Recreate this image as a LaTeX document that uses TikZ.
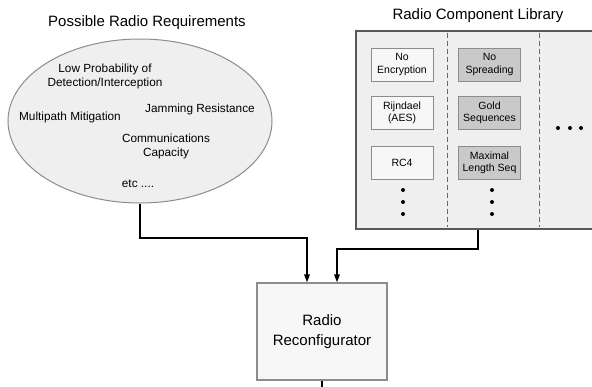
\documentclass[tikz,border=0pt]{standalone}
\usepackage{fontspec}
\setmainfont{Liberation Sans}
\usetikzlibrary{shapes.geometric,arrows.meta}

\definecolor{panel}{HTML}{EFEFEF}
\definecolor{lightbox}{HTML}{F7F7F7}
\definecolor{darkbox}{HTML}{C9C9C9}
\definecolor{edge}{HTML}{8C8C8C}

\begin{document}
\begin{tikzpicture}[x = 1pt, y = -1pt,
                    title/.style = {font = \fontsize{15}{17}\selectfont},
                    req/.style = {font = \fontsize{11.8}{14}\selectfont, align = center},
                    comp/.style = {draw = edge, line width = 1pt, minimum width = 62pt, minimum height = 33pt,
                                   align = center, font = \fontsize{10.5}{12.5}\selectfont, inner sep = 1pt},
                    plain/.style = {comp, fill = lightbox},
                    shaded/.style = {comp, fill = darkbox},
                    dot/.style = {circle, fill = black, inner sep = 0pt, minimum size = 4pt},
                    link/.style = {line width = 1.5pt, -{Triangle[length = 8pt, width = 5.5pt]}}]
  \useasboundingbox (0,0) rectangle (592,386);
  \clip (0,0) rectangle (592,386);

  % requirements
  \node [title] (T1) at (147,23) {Possible Radio Requirements};
  \node [ellipse, draw = edge, fill = panel, line width = 1pt, minimum width = 264pt, minimum height = 164pt] (req) at (140,121) {};
  \node [req] (R1) at (105,76) {Low Probability of\\Detection/Interception};
  \node [req] (R2) at (70,117) {Multipath Mitigation};
  \node [req] (R3) at (200,109) {Jamming Resistance};
  \node [req] (R4) at (166,146) {Communications\\Capacity};
  \node [req] (R5) at (138,184) {etc ....};

  % library
  \node [title] (T2) at (478,16) {Radio Component Library};
  \node [draw = black!65, fill = panel, line width = 1.2pt, minimum width = 244pt, minimum height = 198pt] (lib) at (478,130) {};
  \draw [black!60, line width = 1pt, dash pattern = on 5pt off 3pt] (447,33) -- (447,227);
  \draw [black!60, line width = 1pt, dash pattern = on 5pt off 3pt] (539,33) -- (539,227);

  \node [plain] (A1) at (402,64.5) {No\\Encryption};
  \node [plain] (A2) at (402,113) {Rijndael\\(AES)};
  \node [plain] (A3) at (402,163) {RC4};
  \node [dot] (A4) at (403,190) {};
  \node [dot] (A5) at (403,202) {};
  \node [dot] (A6) at (403,214) {};

  \node [shaded] (B1) at (489.5,64.5) {No\\Spreading};
  \node [shaded] (B2) at (489.5,113) {Gold\\Sequences};
  \node [shaded] (B3) at (489.5,163) {Maximal\\Length Seq};
  \node [dot] (B4) at (492,190) {};
  \node [dot] (B5) at (492,202) {};
  \node [dot] (B6) at (492,214) {};

  \node [dot] (C1) at (558,128) {};
  \node [dot] (C2) at (570,128) {};
  \node [dot] (C3) at (581,128) {};

  % reconfigurator
  \node [draw = edge, fill = lightbox, line width = 1.2pt, minimum width = 130pt, minimum height = 97pt,
         align = center, font = \fontsize{15}{20}\selectfont] (recon) at (322,331.5) {Radio\\Reconfigurator};

  \coordinate (J1) at (307,238);
  \coordinate (J2) at (337,249);
  \coordinate (out) at (322,392);
  \draw [link] (req.south) |- (J1) -- (recon.north -| J1);
  \draw [link] (lib.south) |- (J2) -- (recon.north -| J2);
  \draw [line width = 1.5pt] (recon.south) -- (out);
\end{tikzpicture}
\end{document}
